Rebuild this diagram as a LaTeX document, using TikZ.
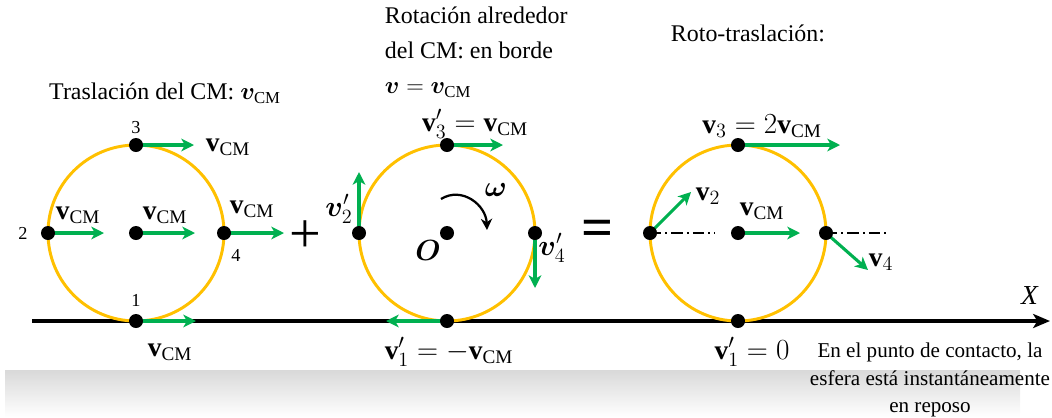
\documentclass[tikz,border=0pt]{standalone}
\usepackage{amsmath,bm}
\usepackage{fontspec}
\setmainfont{Liberation Serif}
\usetikzlibrary{arrows.meta,positioning}
\definecolor{rimgold}{HTML}{FFC000}
\definecolor{vecgreen}{HTML}{00B050}

\begin{document}
\begin{tikzpicture}[x=0.025cm, y=-0.025cm, node distance=2mm,
    every node/.style={font=\fontsize{17}{20}\selectfont},
    rim/.style={draw=rimgold, line width=2.1pt},
    vec/.style={draw=vecgreen, line width=2.2pt, -{Stealth[length=9pt,width=9pt,inset=2.5pt]}},
    dot/.style={circle, fill=black, inner sep=0pt, minimum size=0.35cm},
    num/.style={font=\fontsize{13}{15}\selectfont},
    lbl/.style={font=\fontsize{19.5}{22}\selectfont},
    aux/.style={line width=1pt, dash pattern=on 8pt off 3pt on 1.2pt off 3pt}]
\useasboundingbox (0,0) rectangle (1052,417);
\shade[top color=black!15, bottom color=white] (5,370) rectangle (1020,417);

% ground
\coordinate (g0) at (32,321);
\coordinate (g1) at (1050,321);
\draw[line width=2.5pt, -{Stealth[length=12pt,width=10pt,inset=3pt]}] (g0) -- (g1);
\node[lbl] (xlbl) at (1030,296) {\textit{X}};

% traslacion
\coordinate (c1) at (136,233);
\coordinate (p11) at (136,321);
\coordinate (p12) at (48,233);
\coordinate (p13) at (136,145);
\coordinate (p14) at (224,233);
\coordinate (e10) at (195,233);
\coordinate (e11) at (196,321);
\coordinate (e12) at (104,233);
\coordinate (e13) at (194,145);
\coordinate (e14) at (284,233);
\draw[rim] (c1) circle[radius=88];
\draw[vec] (c1) -- (e10);
\draw[vec] (p11) -- (e11);
\draw[vec] (p12) -- (e12);
\draw[vec] (p13) -- (e13);
\draw[vec] (p14) -- (e14);
\node (t1) at (165,93) {Traslación del CM: $\bm{v}_{\mathrm{CM}}$};
\node[lbl] (l10) at (165,215) {$\mathbf{v}_{\mathrm{CM}}$};
\node[lbl] (l11) at (170,352) {$\mathbf{v}_{\mathrm{CM}}$};
\node[lbl] (l12) at (78,215) {$\mathbf{v}_{\mathrm{CM}}$};
\node[lbl] (l13) at (228,147) {$\mathbf{v}_{\mathrm{CM}}$};
\node[lbl] (l14) at (252,209) {$\mathbf{v}_{\mathrm{CM}}$};
\node[num] (n1) at (136,300) {1};
\node[num] (n2) at (23,233) {2};
\node[num] (n3) at (136,128) {3};
\node[num] (n4) at (236,255) {4};
\node[font=\fontsize{40}{40}\selectfont] (plus) at (305,237) {+};

% rotacion
\coordinate (c2) at (447,233);
\coordinate (p21) at (447,321);
\coordinate (p22) at (359,233);
\coordinate (p23) at (447,145);
\coordinate (p24) at (535,233);
\coordinate (e21) at (386,321);
\coordinate (e22) at (359,172);
\coordinate (e23) at (503,145);
\coordinate (e24) at (535,288);
\coordinate (w0) at (441,199);
\coordinate (w1) at (487,230);
\draw[rim] (c2) circle[radius=88];
\draw[vec] (p21) -- (e21);
\draw[vec] (p22) -- (e22);
\draw[vec] (p23) -- (e23);
\draw[vec] (p24) -- (e24);
\draw[line width=1.6pt, -{Stealth[length=8pt,width=8pt,inset=2.5pt]}] (w0) .. controls (462,186) and (486,205) .. (w1);
\node[anchor=north west, align=left, font=\fontsize{17}{25}\selectfont] (t2) at (380,2)
    {Rotación alrededor\\del CM: en borde\\$\bm{v}=\bm{v}_{\mathrm{CM}}$};
\node[lbl] (l21) at (449,352) {$\mathbf{v}'_1=-\mathbf{v}_{\mathrm{CM}}$};
\node[lbl] (l22) at (339,209) {$\bm{v}'_2$};
\node[lbl] (l23) at (475,124) {$\mathbf{v}'_3=\mathbf{v}_{\mathrm{CM}}$};
\node[lbl] (l24) at (552,248) {$\bm{v}'_4$};
\node[lbl] (lO) at (428,250) {$\bm{O}$};
\node[lbl] (lw) at (496,190) {$\bm{\omega}$};
\node[font=\fontsize{40}{40}\selectfont\bfseries] (eq) at (598,233) {=};

% roto-traslacion
\coordinate (c3) at (738,233);
\coordinate (p31) at (738,321);
\coordinate (p32) at (650,233);
\coordinate (p33) at (738,145);
\coordinate (p34) at (826,233);
\coordinate (e30) at (800,233);
\coordinate (e32) at (691,192);
\coordinate (e33) at (840,145);
\coordinate (e34) at (868,270);
\coordinate (h32) at (715,233);
\coordinate (h34) at (890,233);
\draw[rim] (c3) circle[radius=88];
\draw[aux] (p32) -- (h32);
\draw[aux] (p34) -- (h34);
\draw[vec] (c3) -- (e30);
\draw[vec] (p32) -- (e32);
\draw[vec] (p33) -- (e33);
\draw[vec] (p34) -- (e34);
\node (t3) at (748,33) {Roto-traslación:};
\node[lbl] (l30) at (762,211) {$\mathbf{v}_{\mathrm{CM}}$};
\node[lbl] (l31) at (752,352) {$\mathbf{v}'_1=0$};
\node[lbl] (l32) at (708,196) {$\mathbf{v}_2$};
\node[lbl] (l33) at (762,126) {$\mathbf{v}_3=2\mathbf{v}_{\mathrm{CM}}$};
\node[lbl] (l34) at (881,262) {$\mathbf{v}_4$};
\node[align=center, font=\fontsize{15}{19.5}\selectfont] (note) at (930,380)
    {En el punto de contacto, la\\esfera está instantáneamente\\en reposo};

% puntos
\foreach \p in {c1,p11,p12,p13,p14,c2,p21,p22,p23,p24,c3,p31,p32,p33,p34}
  \node[dot] (d-\p) at (\p) {};
\end{tikzpicture}
\end{document}
